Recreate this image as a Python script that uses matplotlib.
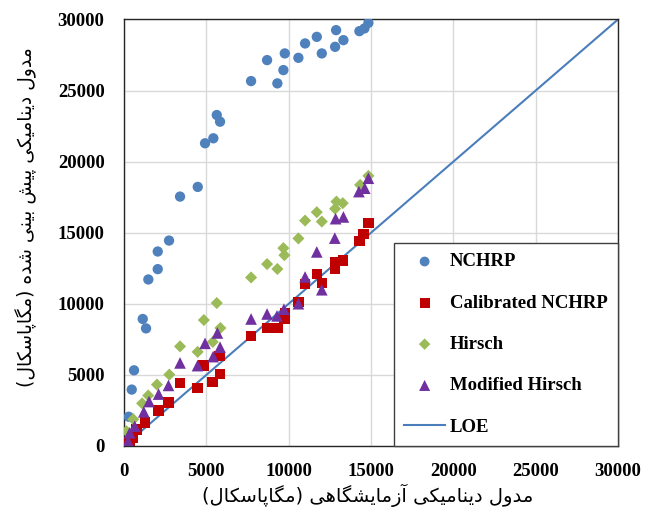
import numpy as np
import matplotlib
matplotlib.use('Agg')
import matplotlib.pyplot as plt

# ── Data (MPa) ────────────────────────────────────────────────────────
nchrp_x = [14842, 14600, 14295, 12880, 11707, 10996, 13324, 12819, 12011, 10590,
           9763, 9678, 8688, 9313, 7716, 5632, 5832, 5425, 4921, 4477,
           3402, 2734, 2047, 2047, 1476, 1136, 1337, 608, 468, 285]
nchrp_y = [29761, 29370, 29178, 29250, 28778, 28314, 28546, 28076, 27612, 27303,
           27612, 26440, 27142, 25506, 25667, 23280, 22810, 21643, 21292, 18223,
           17543, 14450, 13680, 12440, 11713, 8933, 8273, 5323, 3968, 2060]

cal_x = [14842, 14540, 14297, 13285, 12819, 12819, 11707, 12011, 10996, 10590,
         9781, 9740, 9316, 8688, 7716, 5790, 4820, 5832, 5367, 4455,
         3402, 2700, 2100, 1256, 749, 547, 344, 120]
cal_y = [15680, 14923, 14431, 13048, 12933, 12465, 12120, 11460, 11400, 10110,
         9354, 8933, 8300, 8300, 7713, 6306, 5653, 5060, 4500, 4087,
         4410, 3070, 2500, 1650, 1159, 576, 100, 250]

hirsch_x = [14842, 14338, 12900, 13285, 12819, 11707, 12011, 10996, 10590, 9678,
            9739, 9313, 8688, 7716, 5632, 4850, 5850, 5389, 4470, 3402,
            2750, 2000, 1470, 1100, 560, 150]
hirsch_y = [19000, 18364, 17191, 17079, 16690, 16446, 15787, 15857, 14600, 13918,
            13420, 12450, 12795, 11854, 10056, 8860, 8300, 7317, 6620, 7008,
            5021, 4319, 3550, 3000, 1880, 1040]

mod_x = [14842, 14620, 14265, 12850, 13324, 12800, 11707, 10996, 12011, 10590,
         9710, 9290, 8688, 7716, 5670, 4921, 5832, 5410, 4466, 3402,
         2700, 2100, 1520, 1200, 648, 344, 243]
mod_y = [18834, 18132, 17893, 15990, 16110, 14621, 13650, 11890, 10990, 10007,
         9620, 9150, 9284, 8933, 7949, 7220, 6950, 6285, 5653, 5843,
         4260, 3650, 3125, 2400, 1390, 927, 337]

loe = [0, 30000]
ticks = [0, 5000, 10000, 15000, 20000, 25000, 30000]

xlabel_fa = 'مدول دینامیکی آزمایشگاهی (مگاپاسکال)'
ylabel_fa = 'مدول دینامیکی پیش بینی شده (مگاپاسکال)'

# ── Minimal Persian shaping (matplotlib has no text shaping) ─────────
FORMS = {
    'ا': ('\uFE8D', '\uFE8E', None, None),
    'آ': ('\uFE81', '\uFE82', None, None),
    'ب': ('\uFE8F', '\uFE90', '\uFE91', '\uFE92'),
    'پ': ('\uFB56', '\uFB57', '\uFB58', '\uFB59'),
    'د': ('\uFEA9', '\uFEAA', None, None),
    'ز': ('\uFEAF', '\uFEB0', None, None),
    'س': ('\uFEB1', '\uFEB2', '\uFEB3', '\uFEB4'),
    'ش': ('\uFEB5', '\uFEB6', '\uFEB7', '\uFEB8'),
    'ک': ('\uFB8E', '\uFB8F', '\uFB90', '\uFB91'),
    'گ': ('\uFB92', '\uFB93', '\uFB94', '\uFB95'),
    'ل': ('\uFEDD', '\uFEDE', '\uFEDF', '\uFEE0'),
    'م': ('\uFEE1', '\uFEE2', '\uFEE3', '\uFEE4'),
    'ن': ('\uFEE5', '\uFEE6', '\uFEE7', '\uFEE8'),
    'ه': ('\uFEE9', '\uFEEA', '\uFEEB', '\uFEEC'),
    'و': ('\uFEED', '\uFEEE', None, None),
    'ی': ('\uFBFC', '\uFBFD', '\uFBFE', '\uFBFF'),
}

def shape_fa(s):
    out = []
    for i, ch in enumerate(s):
        f = FORMS.get(ch)
        if f is None:
            out.append(ch)
            continue
        prev = s[i - 1] if i > 0 else ''
        nxt = s[i + 1] if i + 1 < len(s) else ''
        jp = prev in FORMS and FORMS[prev][2] is not None
        jn = f[2] is not None and nxt in FORMS
        out.append(f[3] if (jp and jn) else f[1] if jp else f[2] if jn else f[0])
    return ''.join(reversed(out)).translate(str.maketrans('()', ')('))

# ── Figure ────────────────────────────────────────────────────────────
fig = plt.figure(figsize=(6.48, 5.18), dpi=100)
ax = fig.add_axes([0.1914, 0.139, 0.7623, 0.8234])

ax.plot(loe, loe, color='#4A7EBB', lw=1.5, label='LOE', zorder=2)
ax.scatter(nchrp_x, nchrp_y, marker='o', s=55, color='#4F81BD',
           edgecolors='none', label='NCHRP', zorder=3)
ax.scatter(cal_x, cal_y, marker='s', s=55, color='#C00000',
           edgecolors='none', label='Calibrated NCHRP', zorder=3)
ax.scatter(hirsch_x, hirsch_y, marker='D', s=38, color='#9BBB59',
           edgecolors='none', label='Hirsch', zorder=3)
ax.scatter(mod_x, mod_y, marker='^', s=70, color='#7030A0',
           edgecolors='none', label='Modified Hirsch', zorder=3)

ax.set_xlim(0, 30000)
ax.set_ylim(0, 30000)
ax.set_xticks(ticks)
ax.set_yticks(ticks)
ax.grid(True, color='#D9D9D9', lw=1.0, zorder=0)
ax.set_axisbelow(True)
ax.tick_params(axis='x', length=0, pad=12)
ax.tick_params(axis='y', length=0, pad=14)
for lab in ax.get_xticklabels() + ax.get_yticklabels():
    lab.set_fontfamily('Liberation Serif')
    lab.set_fontweight('bold')
    lab.set_fontsize(13.5)
for sp in ax.spines.values():
    sp.set_color('#262626')
    sp.set_linewidth(1.0)

h, l = ax.get_legend_handles_labels()
order = [1, 2, 3, 4, 0]
leg = ax.legend([h[i] for i in order], [l[i] for i in order],
                loc='lower right', bbox_to_anchor=(1.0, 0.0), borderaxespad=0,
                fancybox=False, framealpha=1, edgecolor='#404040',
                prop={'family': 'Liberation Serif', 'weight': 'bold', 'size': 13.5},
                labelspacing=1.29, handlelength=2.2, handletextpad=0.25,
                borderpad=0.55, scatterpoints=1, markerscale=0.95)
leg.get_frame().set_linewidth(1.0)
leg.set_zorder(5)

fig.text(0.568, 0.044, shape_fa(xlabel_fa), ha='center', va='center',
         fontsize=14, family=['DejaVu Sans'])
fig.text(0.040, 0.58, shape_fa(ylabel_fa), ha='center', va='center',
         rotation=90, fontsize=13.5, family=['DejaVu Sans'])

plt.savefig('out.png', dpi=100)
plt.close()
